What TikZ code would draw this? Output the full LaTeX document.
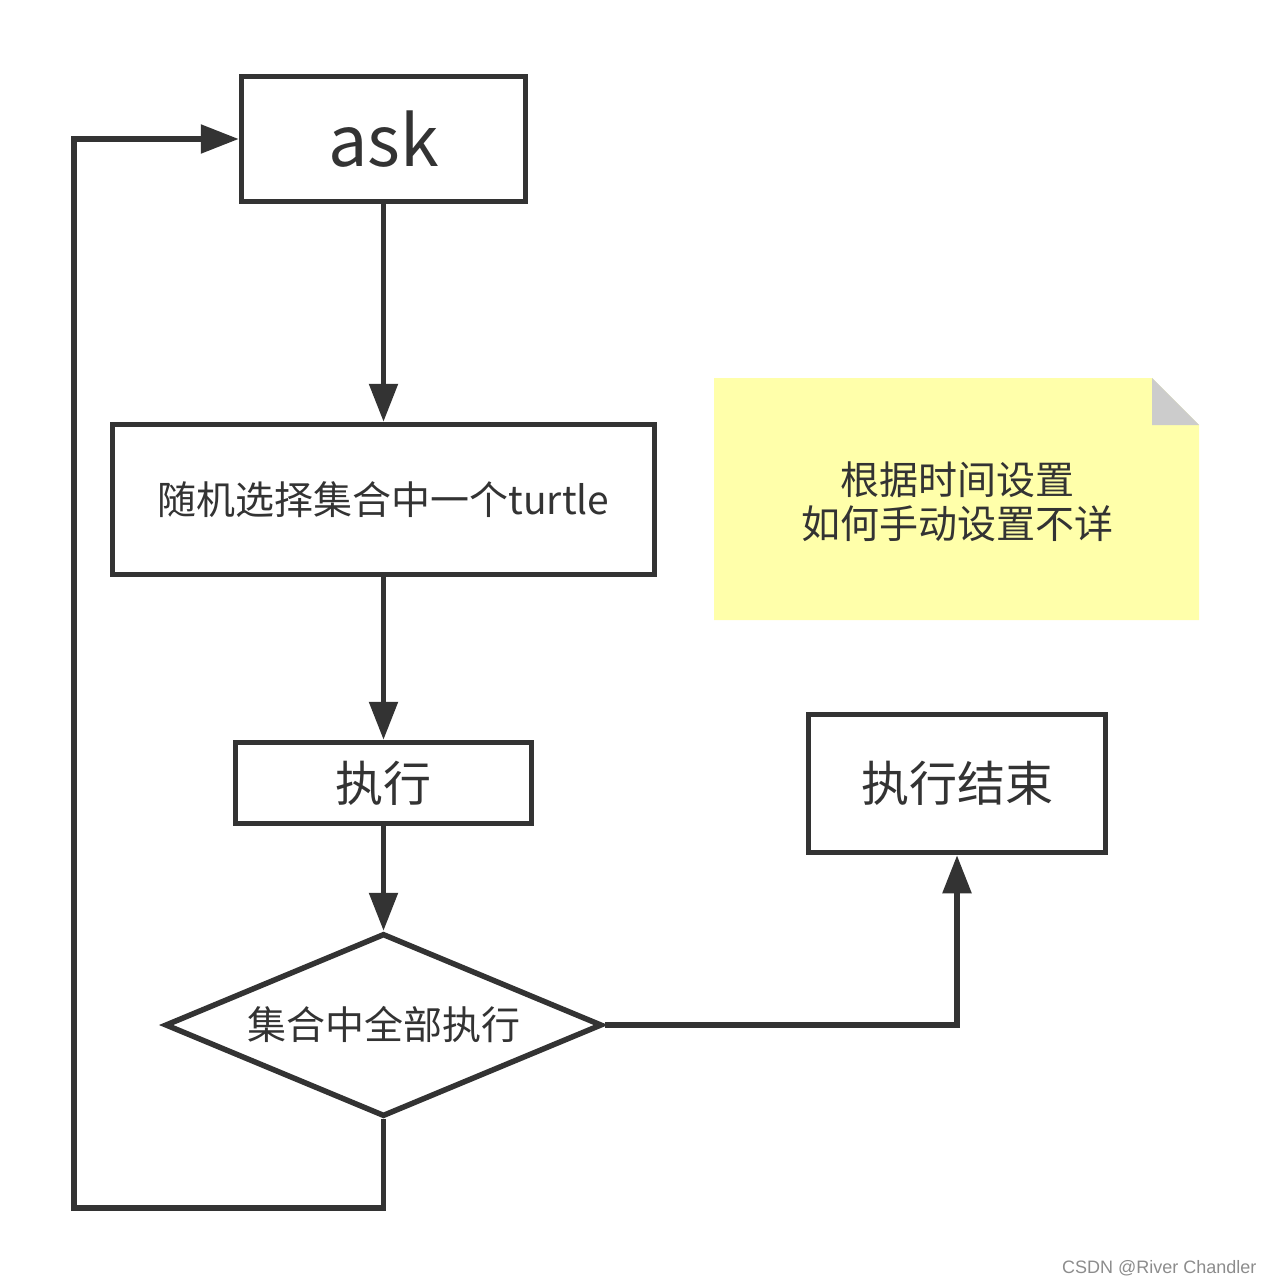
\documentclass[tikz,border=0pt]{standalone}
\usepackage{fontspec}
\setmainfont{Noto Sans CJK SC}
\newfontfamily\marksans{Liberation Sans}
\usetikzlibrary{shapes.geometric, arrows.meta}

\definecolor{ink}{HTML}{333333}
\definecolor{notefill}{HTML}{FFFFAA}
\definecolor{notefold}{HTML}{CCCCCC}

\tikzset{
  stepbox/.style={draw=ink, line width=5.5pt, text=ink, inner sep=0pt},
  decide/.style={diamond, draw=ink, line width=5.5pt, text=ink, inner sep=0pt, aspect=2.4},
  flow/.style={draw=ink, line width=5.5pt, -{Triangle[length=38pt, width=28pt]}},
}

\begin{document}
\begin{tikzpicture}[x=1pt, y=-1pt]
  \useasboundingbox (0,0) rectangle (1275,1285);

  % main column
  \node (ask) [stepbox, minimum width=284pt, minimum height=125pt,
    font=\fontsize{70}{84}\selectfont] at (383.5,139) {ask};
  \node (pick) [stepbox, minimum width=542pt, minimum height=150pt,
    font=\fontsize{39}{46}\selectfont] at (383.5,499.5) {随机选择集合中一个turtle};
  \node (run) [stepbox, minimum width=296pt, minimum height=81pt,
    font=\fontsize{48}{56}\selectfont] at (383.5,783) {执行};
  \node (check) [decide, minimum width=437pt, minimum height=183pt,
    font=\fontsize{39}{46}\selectfont] at (383.5,1025) {集合中全部执行};
  \node (done) [stepbox, minimum width=297pt, minimum height=138pt,
    font=\fontsize{48}{56}\selectfont] at (957,783.5) {执行结束};

  % note
  \fill[notefill] (714,378) -- (1152,378) -- (1199,425) -- (1199,620) -- (714,620) -- cycle;
  \fill[notefold] (1152,378) -- (1152,425) -- (1199,425) -- cycle;
  \node (memo) [text=ink, align=center, font=\fontsize{39}{44}\selectfont]
    at (957,502) {根据时间设置\\如何手动设置不详};

  % connectors
  \coordinate (loop-corner) at (74,1208);
  \draw[flow] (ask) -- (pick);
  \draw[flow] (pick) -- (run);
  \draw[flow] (run) -- (check);
  \draw[flow] (check.east) -| (done.south);
  \draw[flow] (check.south) |- (loop-corner) |- (ask.west);

  % watermark
  \node (mark) [anchor=east, text=black!45, font=\marksans\fontsize{18}{20}\selectfont]
    at (1260,1268) {CSDN @River Chandler};

\end{tikzpicture}
\end{document}
